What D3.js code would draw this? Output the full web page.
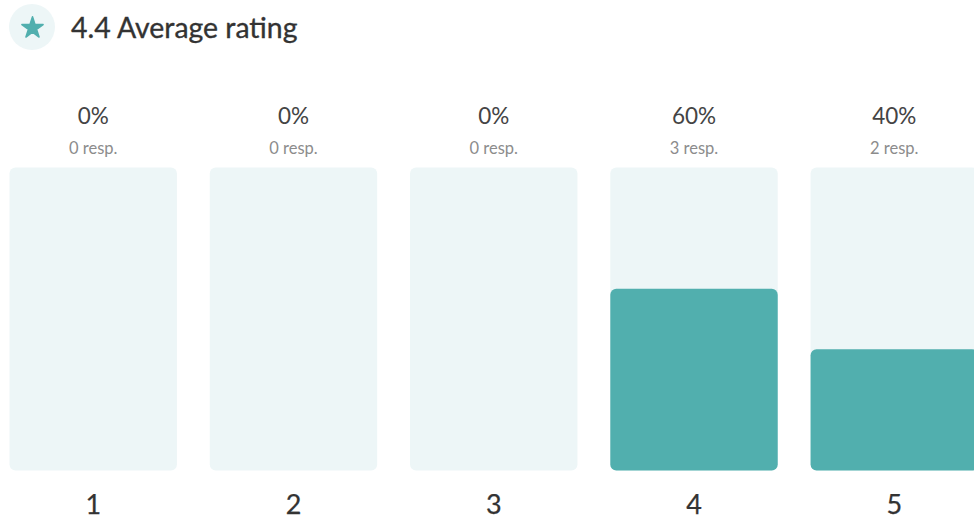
<!DOCTYPE html>
<html>
<head>
<meta charset="utf-8">
<script src="https://cdn.jsdelivr.net/npm/d3@7"></script>
<style>
html,body{margin:0;padding:0;background:#fff;overflow:hidden}
svg{display:block}
text{font-family:"Lato",sans-serif}
</style>
</head>
<body>
<svg id="c" width="974" height="520"></svg>
<script>
const categories = ["1","2","3","4","5"];
const percents = [0,0,0,60,40];
const responses = [0,0,0,3,2];
const titleText = "4.4 Average rating";

const svg = d3.select("#c");
const top_ = 167.5, bottom = 470.5;
const x = d3.scaleBand().domain(categories).range([9.5,978]).paddingInner(0.164).paddingOuter(0);
const y = d3.scaleLinear().domain([0,100]).range([bottom,top_]);

// header
svg.append("circle").attr("cx",32).attr("cy",27).attr("r",23).attr("fill","#edf6f7");
svg.append("path").attr("d",d3.symbol(d3.symbolStar,140)()).attr("transform","translate(32.5,28)")
  .attr("fill","#51afae").attr("stroke","#51afae").attr("stroke-width",1.5).attr("stroke-linejoin","round");
svg.append("text").attr("x",71).attr("y",38).attr("font-size",28.4).attr("fill","#333")
  .attr("stroke","#333").attr("stroke-width",0.35).text(titleText);

const g = svg.selectAll("g.b").data(categories).join("g").attr("class","b");
g.append("rect").attr("x",d=>x(d)).attr("y",top_).attr("width",x.bandwidth()).attr("height",bottom-top_)
  .attr("rx",6).attr("fill","#edf6f7");
g.each(function(d,i){
  if(percents[i]>0){
    d3.select(this).append("rect").attr("x",x(d)).attr("y",y(percents[i])).attr("width",x.bandwidth())
      .attr("height",bottom-y(percents[i])).attr("rx",6).attr("fill","#51afae");
  }
});
const cx = d=>x(d)+x.bandwidth()/2;
g.append("text").attr("x",cx).attr("y",123.5).attr("text-anchor","middle").attr("font-size",22.5).attr("fill","#444")
  .text((d,i)=>percents[i]+"%");
g.append("text").attr("x",cx).attr("y",153.5).attr("text-anchor","middle").attr("font-size",16.5).attr("fill","#8c8c8c")
  .text((d,i)=>responses[i]+" resp.");
g.append("text").attr("x",cx).attr("y",514).attr("text-anchor","middle").attr("font-size",27).attr("fill","#333")
  .attr("stroke","#333").attr("stroke-width",0.25).text(d=>d);
</script>
</body>
</html>
